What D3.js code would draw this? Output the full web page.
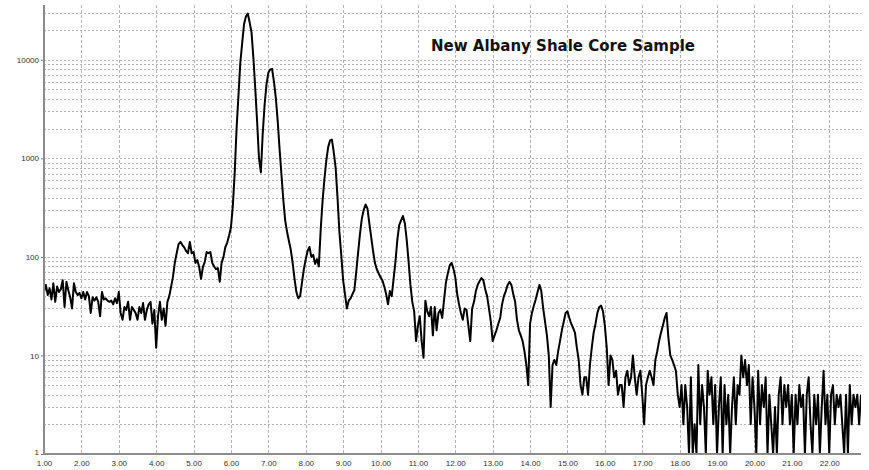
<!DOCTYPE html>
<html>
<head>
<meta charset="utf-8">
<script src="https://cdn.jsdelivr.net/npm/d3@7"></script>
<style>
  html, body { margin: 0; padding: 0; background: #ffffff; }
  svg { display: block; }
</style>
</head>
<body>
<svg id="chart" width="869" height="470"></svg>
<script>
// ---------------- data ----------------
const chartTitle = "New Albany Shale Core Sample";
// scan grid (degrees 2-theta): start and step of the instrument
const scanStart = 1.00;
const scanStep = 0.05;

// counts, 1.00 – 5.95
const countsA = [
  44,52,41,48,37,54,35,50,44,47,
  58,31,56,46,39,30,54,44,41,43,
  38,44,37,44,40,27,39,36,39,35,
  25,44,37,38,36,35,36,33,38,34,
  44,27,23,31,29,35,23,31,29,27,
  23,31,27,34,23,29,33,35,21,29,
  12,25,35,23,30,20,35,40,50,63,
  88,110,135,142,132,125,115,109,142,109,
  112,87,93,79,60,79,89,112,109,112,
  87,80,75,77,56,87,100,126,140,165
];
// counts, 6.00 – 10.95
const countsB = [
  200,330,710,2000,4300,9300,14800,23000,27500,29500,
  24000,19000,10500,5100,2350,1000,720,1800,3500,5600,
  7400,8000,8100,6000,4100,2400,1250,690,380,235,
  180,145,118,87,60,44,38,40,55,75,
  95,115,126,100,105,85,95,80,190,370,
  620,950,1300,1520,1550,1150,800,400,180,105,
  58,42,30,36,38,42,46,70,110,170,
  245,300,340,310,220,160,115,87,75,68,
  62,58,50,42,33,45,40,60,90,150,
  210,235,260,220,150,90,52,35,28,14
];
// counts, 11.00 – 17.95
const countsC = [
  20,25,14,9.5,36,28,25,31,16,31,
  18,27,29,24,37,55,68,82,87,76,
  62,42,33,27,23,30,29,20,14,30,
  35,45,52,57,61,58,47,40,30,22,
  14,16,18,21,24,33,40,45,52,56,
  52,42,35,23,18,16,14,11,8,5,
  21,27,32,37,44,52,45,30,22,16,
  10,3,8,9,8,11,14,18,22,27,
  28,24,21,19,17,12,9,5,4,6,
  6,4,8,12,17,21,27,31,32,28,
  20,12,5,10,9,6,7,4,5,5,
  3,6,7,5,6,10,6,4,6,7,
  4,2,5,6,7,6,5,9,11,14,
  17,20,24,27,15,10,9,8,7,4
];
// counts, 18.00 – 22.85
const countsD = [
  3,5,2,5,3,1,6,1,2,1,
  8,2,5,3,1,7,4,6,2,5,
  1,3,6,1,5,2,4,1,3,6,
  2,5,4,10,6,9,5,8,2,6,
  3,1,7,2,5,3,6,1,4,2,
  1,3,1,4,6,2,5,3,5,2,
  4,1,4,2,5,3,4,1,4,6,
  2,1,4,2,4,1,3,7,2,4,
  1,4,5,2,4,3,4,2,1,4,
  1,5,2,4,3,4,2,4
];

const xTickValues = [1,2,3,4,5,6,7,8,9,10,11,12,13,14,15,16,17,18,19,20,21,22];
const yTickValues = [1,10,100,1000,10000];
const xDomain = [1, 22.85];
const yDomain = [1, 36000];

// ---------------- chart ----------------
(function () {
const counts = [].concat(countsA, countsB, countsC, countsD);
const data = counts.map((c, i) => ({ angle: scanStart + i * scanStep, count: c }));

const svg = d3.select("#chart");
const pL = 44, pR = 861, pT = 5, pB = 454;

const x = d3.scaleLinear().domain(xDomain).range([pL, pR]);
const y = d3.scaleLog().domain(yDomain).range([pB, pT]);

const gridColor = "#b4b4b4";

// horizontal grid (every minor log tick)
svg.append("g")
  .selectAll("line")
  .data(y.ticks().filter(v => v > 1 && v <= yDomain[1]))
  .join("line")
  .attr("x1", pL).attr("x2", pR)
  .attr("y1", d => Math.round(y(d)) + 0.5).attr("y2", d => Math.round(y(d)) + 0.5)
  .attr("stroke", gridColor).attr("stroke-width", 1)
  .attr("stroke-dasharray", "2,2");

// vertical grid
svg.append("g")
  .selectAll("line")
  .data(xTickValues.filter(v => v > 1))
  .join("line")
  .attr("x1", d => Math.round(x(d)) + 0.5).attr("x2", d => Math.round(x(d)) + 0.5)
  .attr("y1", pT).attr("y2", pB)
  .attr("stroke", gridColor).attr("stroke-width", 1)
  .attr("stroke-dasharray", "3,2");

// clip
svg.append("clipPath").attr("id", "plotclip")
  .append("rect").attr("x", pL).attr("y", pT)
  .attr("width", pR - pL).attr("height", pB - pT + 1);

// data line
const line = d3.line()
  .x(d => x(d.angle))
  .y(d => y(Math.max(d.count, 1)))
  .curve(d3.curveLinear);

svg.append("path")
  .datum(data)
  .attr("clip-path", "url(#plotclip)")
  .attr("fill", "none")
  .attr("stroke", "#000")
  .attr("stroke-width", 2)
  .attr("stroke-linejoin", "round")
  .attr("d", line);

// axes
const fontFam = "'Liberation Sans', Arial, sans-serif";
const yAxis = d3.axisLeft(y).tickValues(yTickValues).tickFormat(d3.format("d")).tickSize(3).tickPadding(2);
const gy = svg.append("g").attr("transform", `translate(${pL},0)`).call(yAxis);
gy.select(".domain").remove();
gy.selectAll(".tick line").attr("stroke", "#777");
gy.selectAll(".tick text").attr("font-family", fontFam).attr("font-size", 8).attr("fill", "#333")
  .attr("dy", d => d === 1 ? "0.05em" : "0.32em");

const xAxis = d3.axisBottom(x).tickValues(xTickValues).tickFormat(d3.format(".2f")).tickSize(0).tickPadding(6);
const gx = svg.append("g").attr("transform", `translate(0,${pB})`).call(xAxis);
gx.select(".domain").remove();
gx.selectAll(".tick text").attr("font-family", fontFam).attr("font-size", 8).attr("fill", "#333");

// axis lines
svg.append("line").attr("x1", pL).attr("x2", pL).attr("y1", pT).attr("y2", pB + 1)
  .attr("stroke", "#8c8c8c").attr("stroke-width", 2);
svg.append("line").attr("x1", pL).attr("x2", pR).attr("y1", pB).attr("y2", pB)
  .attr("stroke", "#8c8c8c").attr("stroke-width", 2);

// title
svg.append("text")
  .attr("x", 563).attr("y", 51)
  .attr("text-anchor", "middle")
  .attr("font-family", "'DejaVu Sans', Verdana, sans-serif")
  .attr("font-weight", "bold")
  .attr("font-size", 15)
  .attr("fill", "#111")
  .text(chartTitle);
})();
</script>
</body>
</html>
